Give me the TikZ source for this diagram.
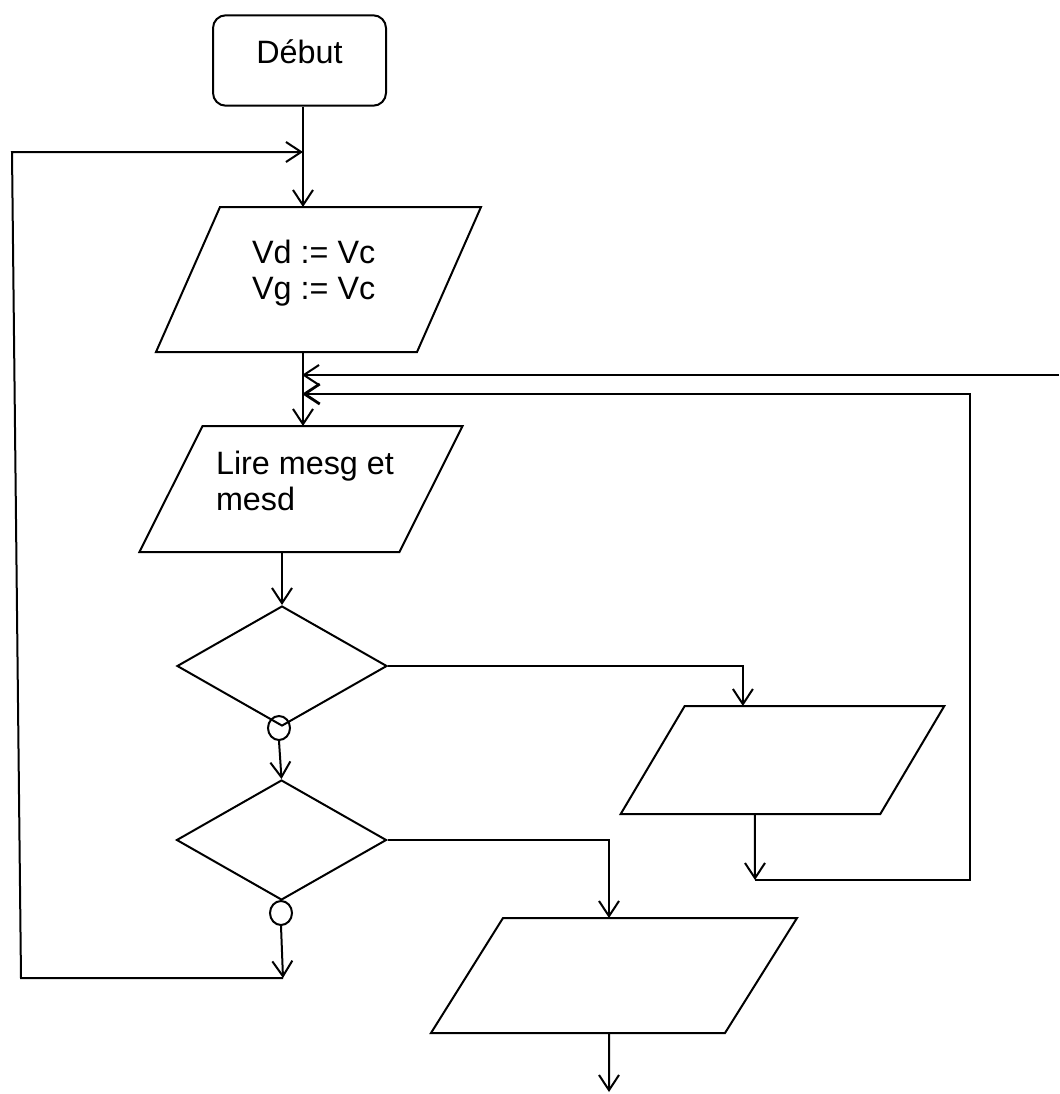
\documentclass[tikz,border=0pt]{standalone}
\usepackage{fontspec}
\setmainfont{Liberation Sans}
\usepackage{tikz}
\usetikzlibrary{arrows.meta,shapes.geometric}

\begin{document}
\begin{tikzpicture}[x=0.25mm, y=-0.25mm, line width=0.5mm, font=\fontsize{23}{25.6}\selectfont,
  fleche/.style={-{Straight Barb[length=3.8mm,width=5mm]}},
  para/.style={inner sep=0pt},
  losange/.style={draw, diamond, inner sep=0pt, minimum width=52.5mm, minimum height=30mm},
  rond/.style={draw, ellipse, inner sep=0pt, minimum width=5.5mm, minimum height=6mm}]
\useasboundingbox (0,0) rectangle (1059,1094);

% blocs
\node[draw, rounded corners=3.2mm, minimum width=43.25mm, minimum height=22.6mm, text height=6mm, text depth=4.7mm] (debut) at (299.5,60.5) {Début\hspace{3mm}};
\node[para, minimum width=64.75mm, minimum height=35.75mm, label={[align=center, xshift=-1.2mm, yshift=1.6mm]center:{Vd := Vc\\Vg := Vc}}] (init) at (318.5,279.5) {};
\node[para, minimum width=64.5mm, minimum height=31mm, label={[align=left, xshift=1mm, yshift=2mm]center:{Lire mesg et\\mesd}}] (lecture) at (301,489) {};
\node[losange] (test1) at (282,666) {};
\node[rond] (rond1) at (279,728) {};
\node[losange] (test2) at (281.5,840) {};
\node[rond] (rond2) at (281,913) {};
\node[para, minimum width=64.4mm, minimum height=26.5mm] (action1) at (782.5,760) {};
\node[para, minimum width=73mm, minimum height=28.25mm] (action2) at (614,975.5) {};
\foreach \n/\d in {init/8mm, lecture/7.9mm, action1/8mm, action2/9mm}
  \draw ([xshift=\d]\n.north west) -- ([xshift=\d]\n.north east) -- ([xshift=-\d]\n.south east) -- ([xshift=-\d]\n.south west) -- cycle;

% points de passage
\coordinate (entree) at (303,152);
\coordinate (retour1) at (302,375);
\coordinate (retour2) at (302,394);
\coordinate (bord) at (1059,375);
\coordinate (sortie) at (283,978);
\coordinate (coude) at (755,880);
\coordinate (fin) at (609,1092);

% liaisons
\draw[fleche] (debut.south -| entree) -- (init.north -| entree);
\draw[fleche] (init.south -| entree) -- (lecture.north -| entree);
\draw[fleche] (lecture.south -| test1.north) -- (test1.north);
\draw[fleche] (rond1.south) -- (test2.north);
\draw[fleche] (rond2.south) -- (sortie);
\draw[fleche] (sortie) -- (21,978) -- (12,152) -- (entree);
\draw[fleche] (test1.east) -| ([xshift=-9.9mm]action1.north);
\draw[fleche] ([xshift=-6.9mm]action1.south) -- (coude);
\draw[fleche, line width=0.7mm] (coude) -- (970,880) -- (970,394) -- (retour2);
\draw[fleche] (bord) -- (retour1);
\draw[fleche] (test2.east) -| ([xshift=-1.25mm]action2.north);
\draw[fleche] ([xshift=-1.25mm]action2.south) -- (fin);
\end{tikzpicture}
\end{document}
